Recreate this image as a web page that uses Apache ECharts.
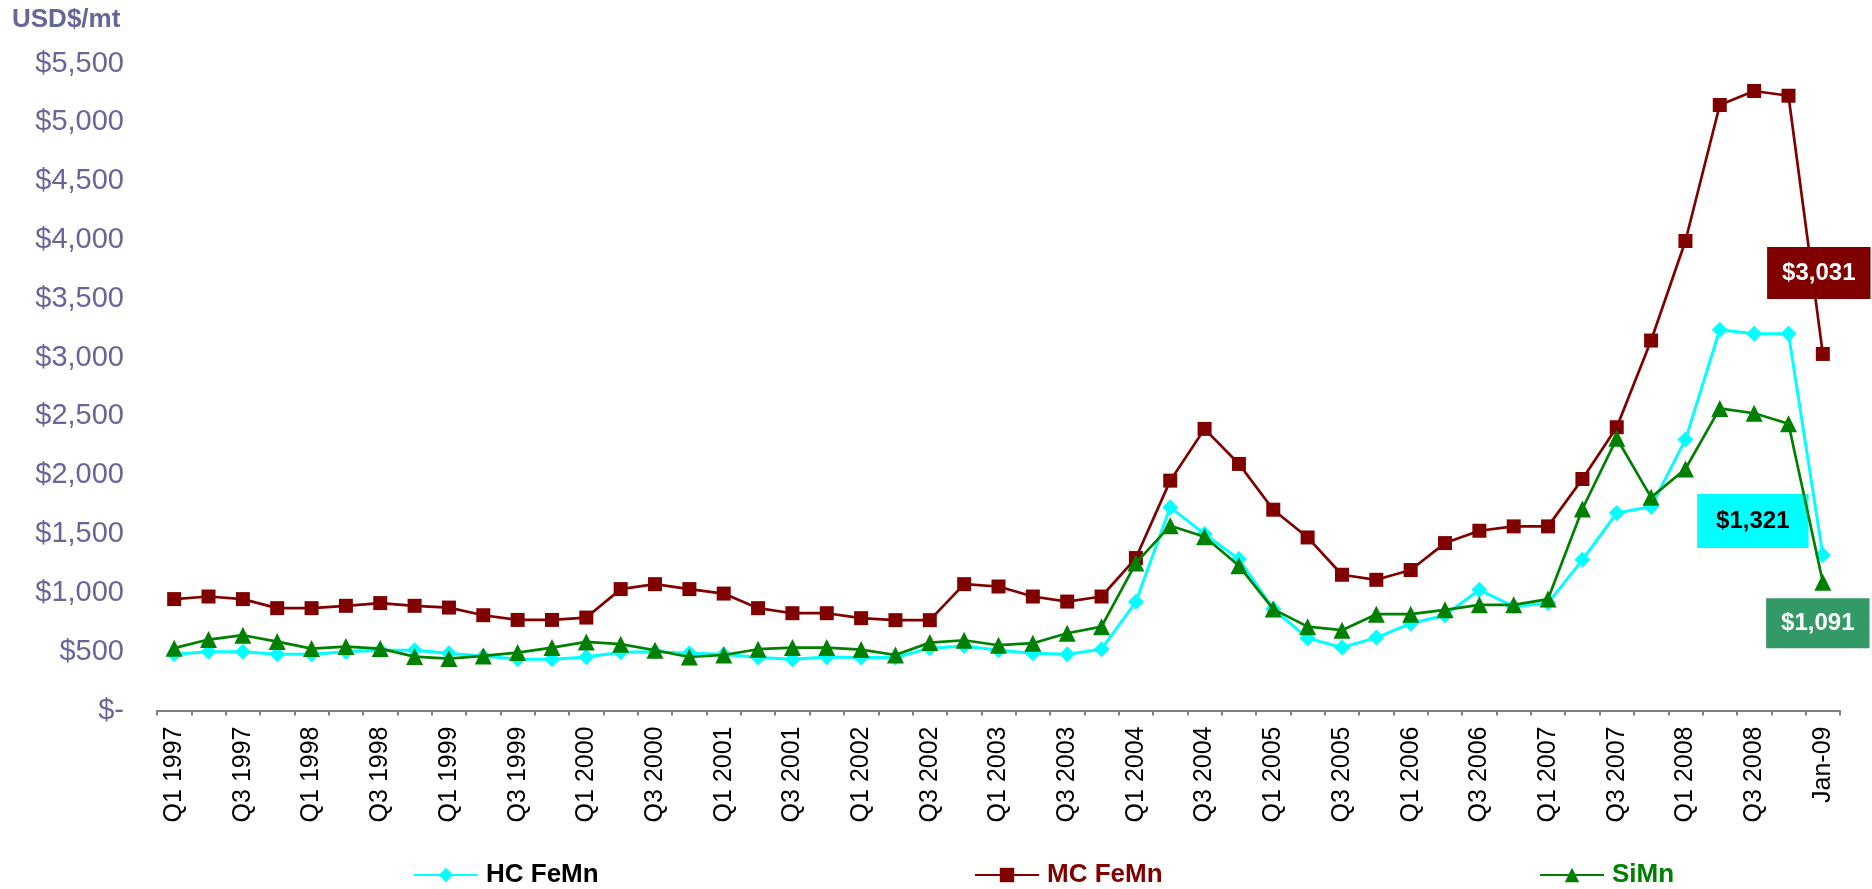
<!DOCTYPE html>
<html>
<head>
<meta charset="utf-8">
<title>Manganese alloy prices</title>
<script src="https://cdn.jsdelivr.net/npm/echarts@6/dist/echarts.min.js"></script>
<style>
  html, body { margin: 0; padding: 0; background: #ffffff; }
  #chart { width: 1872px; height: 889px; }
</style>
</head>
<body>
<div id="chart"></div>
<script>
// Quarterly alloy prices, USD per metric tonne
const categories = [
  'Q1 1997','Q2 1997','Q3 1997','Q4 1997',
  'Q1 1998','Q2 1998','Q3 1998','Q4 1998',
  'Q1 1999','Q2 1999','Q3 1999','Q4 1999',
  'Q1 2000','Q2 2000','Q3 2000','Q4 2000',
  'Q1 2001','Q2 2001','Q3 2001','Q4 2001',
  'Q1 2002','Q2 2002','Q3 2002','Q4 2002',
  'Q1 2003','Q2 2003','Q3 2003','Q4 2003',
  'Q1 2004','Q2 2004','Q3 2004','Q4 2004',
  'Q1 2005','Q2 2005','Q3 2005','Q4 2005',
  'Q1 2006','Q2 2006','Q3 2006','Q4 2006',
  'Q1 2007','Q2 2007','Q3 2007','Q4 2007',
  'Q1 2008','Q2 2008','Q3 2008','Q4 2008',
  'Jan-09'
];

const hcFeMn = [
  478, 500, 500, 478, 478, 500, 512, 512, 487, 464, 436, 436, 455,
  495, 500, 487, 478, 450, 436, 455, 450, 450, 530, 549, 512, 487, 478, 521,
  924, 1727, 1500, 1287,
  862, 615, 535, 620, 739, 810, 1026, 884, 913, 1281, 1679, 1733, 2303,
  3237, 3203, 3203, 1321
];

const mcFeMn = [
  947, 969, 947, 870, 870, 890, 913, 890, 875, 810, 770, 770, 790,
  1032, 1074, 1032, 994, 870, 827, 827, 785, 768, 768, 1074, 1054, 969, 926, 969,
  1296, 1954, 2394, 2096,
  1707, 1471, 1154, 1111, 1194, 1423, 1528, 1565, 1565, 1968, 2408, 3145, 3991,
  5147, 5266, 5226, 3031
];

const siMn = [
  530, 603, 640, 586, 526, 543, 526, 458, 441, 464, 492, 535, 583,
  564, 512, 455, 472, 521, 535, 535, 518, 472, 577, 597, 555, 572, 657, 713,
  1253, 1571, 1477, 1230,
  862, 713, 683, 819, 819, 856, 898, 898, 947, 1713, 2314, 1812, 2053,
  2568, 2527, 2437, 1091
];

const FONT = "'Liberation Sans', Arial, sans-serif";

function money(v) {
  if (v === 0) return '$-';
  return '$' + v.toLocaleString('en-US');
}

// Last point of a series carries a boxed value label
function withEndLabel(values, labelStyle) {
  return values.map(function (v, i) {
    if (i !== values.length - 1) return v;
    return {
      value: v,
      label: Object.assign({
        show: true,
        position: 'inside',
        fontFamily: FONT,
        fontSize: 24,
        fontWeight: 'bold',
        formatter: function (p) { return money(p.value); }
      }, labelStyle)
    };
  });
}

function legendFor(name, left, color) {
  return {
    data: [name],
    left: left,
    top: 862,
    padding: 0,
    orient: 'horizontal',
    itemWidth: 64,
    itemHeight: 18,
    itemGap: 6,
    textStyle: {
      fontFamily: FONT, fontSize: 26, fontWeight: 'bold', color: color,
      padding: [0, 0, 0, 3]
    },
    selectedMode: false
  };
}

const chart = echarts.init(document.getElementById('chart'), null, { renderer: 'canvas' });

chart.setOption({
  animation: false,
  backgroundColor: '#ffffff',
  title: {
    text: 'USD$/mt',
    left: 12,
    top: 7,
    padding: 0,
    textStyle: { fontFamily: FONT, fontSize: 26, fontWeight: 'bold', color: '#666699' }
  },
  legend: [
    legendFor('HC FeMn', 413, '#000000'),
    legendFor('MC FeMn', 974, '#800000'),
    legendFor('SiMn', 1539, '#008000')
  ],
  grid: { left: 157, right: 32, top: 63.5, bottom: 178.5 },
  xAxis: {
    type: 'category',
    data: categories,
    boundaryGap: true,
    axisLine: { show: true, lineStyle: { color: '#808080', width: 2 } },
    axisTick: { show: true, interval: 0, length: 5, lineStyle: { color: '#808080', width: 2 } },
    axisLabel: {
      interval: 1,
      rotate: 90,
      margin: 16,
      color: '#000000',
      fontFamily: FONT,
      fontSize: 25
    },
    splitLine: { show: false }
  },
  yAxis: {
    type: 'value',
    min: 0,
    max: 5500,
    interval: 500,
    axisLine: { show: false },
    axisTick: { show: false },
    splitLine: { show: false },
    axisLabel: {
      margin: 33,
      color: '#666699',
      fontFamily: FONT,
      fontSize: 29,
      formatter: money
    }
  },
  series: [
    {
      name: 'HC FeMn',
      type: 'line',
      data: withEndLabel(hcFeMn, {
        color: '#000000',
        backgroundColor: '#00FFFF',
        padding: [15, 19, 15, 19],
        offset: [-70, -34]
      }),
      symbol: 'diamond',
      symbolSize: 16,
      lineStyle: { color: '#00FFFF', width: 3 },
      itemStyle: { color: '#00FFFF' },
      z: 2
    },
    {
      name: 'MC FeMn',
      type: 'line',
      data: withEndLabel(mcFeMn, {
        color: '#ffffff',
        backgroundColor: '#800000',
        padding: [14, 15, 14, 15],
        offset: [-4, -81]
      }),
      symbol: 'rect',
      symbolSize: 14,
      lineStyle: { color: '#800000', width: 2.7 },
      itemStyle: { color: '#800000' },
      z: 3
    },
    {
      name: 'SiMn',
      type: 'line',
      data: withEndLabel(siMn, {
        color: '#ffffff',
        backgroundColor: '#339966',
        padding: [13, 15, 13, 15],
        offset: [-5, 41]
      }),
      symbol: 'triangle',
      symbolSize: 17,
      lineStyle: { color: '#008000', width: 2.7 },
      itemStyle: { color: '#008000' },
      z: 4
    }
  ]
});
</script>
</body>
</html>
